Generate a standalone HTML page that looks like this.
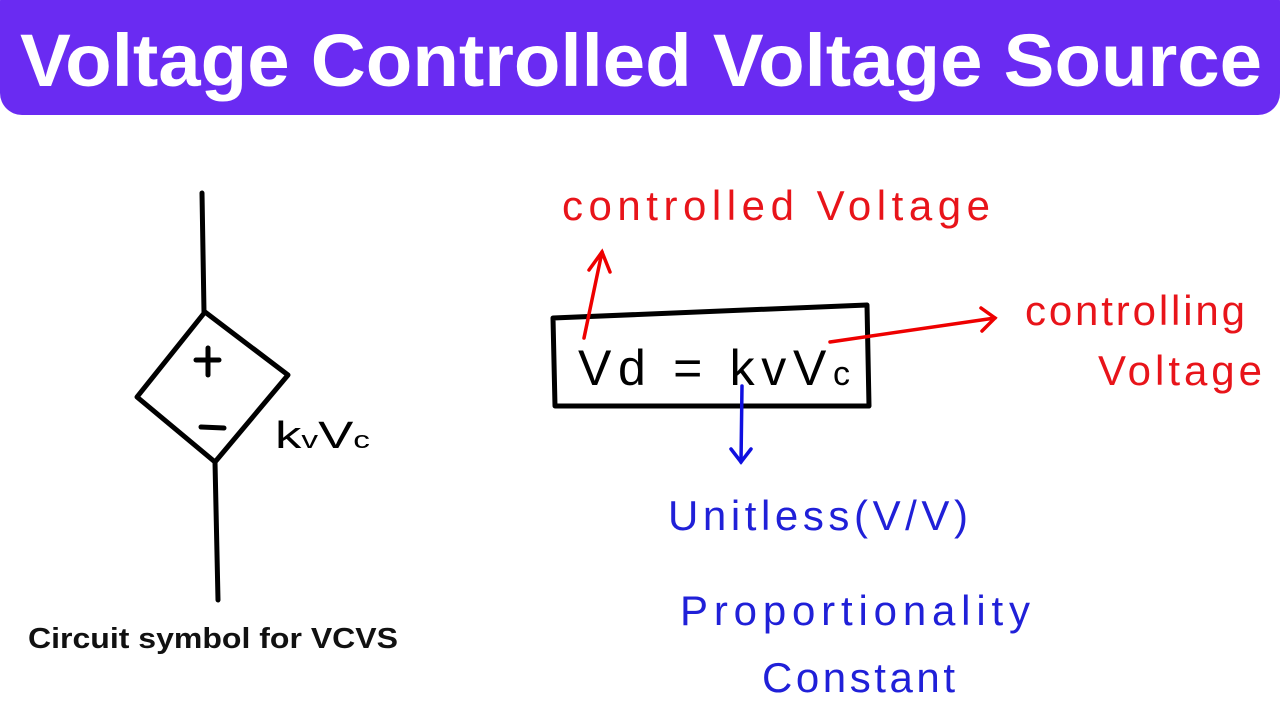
<!DOCTYPE html>
<html><head><meta charset="utf-8"><style>
html,body{margin:0;padding:0;background:#fff;width:1280px;height:720px;overflow:hidden}
</style></head><body>
<svg width="1280" height="720" viewBox="0 0 1280 720" xmlns="http://www.w3.org/2000/svg" font-family="Liberation Sans, sans-serif">
<rect x="0" y="-20" width="1280" height="135" rx="22" fill="#6a2bf2"/>
<text x="20" y="86" font-size="74" font-weight="bold" fill="#fff" textLength="1242" lengthAdjust="spacingAndGlyphs">Voltage Controlled Voltage Source</text>
<g stroke="#000" stroke-width="5" fill="none" stroke-linecap="round" stroke-linejoin="round">
<line x1="202" y1="193" x2="204" y2="312"/>
<polygon points="205,312 288,375 215,462 137,397"/>
<line x1="215" y1="462" x2="218" y2="600"/>
<line x1="196" y1="360" x2="219" y2="360"/><line x1="208" y1="348" x2="208" y2="375"/>
<line x1="201" y1="427" x2="224" y2="428"/>
<path d="M553,318 L867,305 L869,406 L555,406 Z"/>
</g>
<text x="275" y="448" font-size="38" fill="#000" textLength="95" lengthAdjust="spacingAndGlyphs">k<tspan font-size="24">v</tspan>V<tspan font-size="24">c</tspan></text>
<text x="28" y="648" font-size="29" font-weight="bold" fill="#111" textLength="370" lengthAdjust="spacingAndGlyphs">Circuit symbol for VCVS</text>
<text x="578" y="385" font-size="50" fill="#000" textLength="272" lengthAdjust="spacing">Vd = kvV<tspan font-size="34">c</tspan></text>
<g stroke="#e00" stroke-width="3.5" fill="none" stroke-linecap="round">
<line x1="584" y1="338" x2="602" y2="252"/>
<polyline points="589,270 602,252 610,272"/>
<line x1="830" y1="342" x2="995" y2="318"/>
<polyline points="981,308 995,318 982,331"/>
</g>
<g stroke="#1010e0" stroke-width="3.5" fill="none" stroke-linecap="round">
<line x1="742" y1="386" x2="741" y2="462"/>
<polyline points="731,449 741,462 751,449"/>
</g>
<g fill="#e8141a" font-size="42">
<text x="562" y="220" textLength="428" lengthAdjust="spacing">controlled  Voltage</text>
<text x="1025" y="325" textLength="220" lengthAdjust="spacing">controlling</text>
<text x="1098" y="385" textLength="164" lengthAdjust="spacing">Voltage</text>
</g>
<g fill="#2020d8" font-size="42">
<text x="668" y="530" textLength="300" lengthAdjust="spacing">Unitless(V/V)</text>
<text x="680" y="625" textLength="350" lengthAdjust="spacing">Proportionality</text>
<text x="762" y="692" textLength="193" lengthAdjust="spacing">Constant</text>
</g>
</svg>
</body></html>
